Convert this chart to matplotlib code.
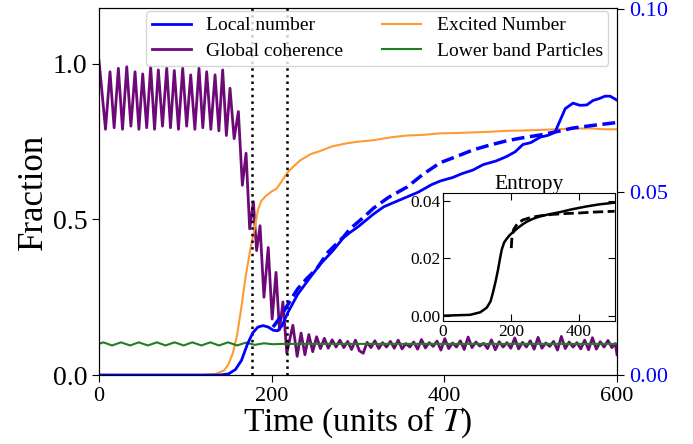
import matplotlib
matplotlib.use("Agg")
import matplotlib.pyplot as plt

plt.rcParams['font.family'] = 'serif'
plt.rcParams['font.serif'] = ['Liberation Serif', 'DejaVu Serif']
plt.rcParams['mathtext.fontset'] = 'stix'

# ---- data (time in units of T) ----
coherence_pts = [
    (0, 1.01), (7.5, 0.79), (12.7, 0.975), (17.5, 0.795), (22.4, 0.986), (27.2, 0.79),
    (32.1, 0.991), (36.9, 0.80), (41.7, 0.975), (46.2, 0.79), (50.6, 0.968), (55.2, 0.795),
    (59.8, 0.991), (64.3, 0.79), (68.7, 0.981), (73.5, 0.80), (78.4, 0.986), (82.8, 0.795),
    (87.2, 0.979), (92.0, 0.79), (96.9, 0.986), (101.5, 0.80), (106.2, 0.965), (111.0, 0.79),
    (115.8, 0.986), (120.2, 0.795), (124.7, 0.975), (129.5, 0.79), (134.4, 0.965), (138.8, 0.785),
    (143.2, 0.981), (147.5, 0.77), (151.7, 0.922), (156.5, 0.76), (161.4, 0.847), (166.0, 0.61),
    (170.3, 0.713), (174.5, 0.47), (178.8, 0.557), (182.5, 0.40), (186.5, 0.48), (191, 0.25),
    (196, 0.41), (200.5, 0.18), (205, 0.33), (209, 0.145), (213, 0.235), (217.5, 0.07),
    (224.5, 0.16), (229.5, 0.06), (234, 0.135), (238.5, 0.065), (243, 0.13), (247.5, 0.075),
    (252, 0.123), (256.5, 0.085), (261, 0.118), (265.5, 0.086), (270, 0.113), (274.5, 0.09),
    (279, 0.112), (283.5, 0.088), (288, 0.108), (292.5, 0.082), (297, 0.112), (301.5, 0.078),
    (306, 0.07), (310.5, 0.105), (315, 0.088), (319.5, 0.11), (324, 0.085), (328.5, 0.104),
    (333, 0.09), (337.5, 0.108), (342, 0.086), (346.5, 0.112), (351, 0.084), (355.5, 0.101),
    (360, 0.09), (364.5, 0.106), (369, 0.083), (373.5, 0.114), (378, 0.087), (382.5, 0.104),
    (387, 0.092), (391.5, 0.109), (396, 0.08), (400.5, 0.117), (405, 0.085), (409.5, 0.103),
    (414, 0.09), (418.5, 0.11), (423, 0.082), (427.5, 0.122), (432, 0.088), (436.5, 0.106),
    (441, 0.093), (445.5, 0.102), (450, 0.085), (454.5, 0.113), (459, 0.081), (463.5, 0.107),
    (468, 0.09), (472.5, 0.104), (477, 0.086), (481.5, 0.119), (486, 0.084), (490.5, 0.105),
    (495, 0.09), (499.5, 0.11), (504, 0.083), (508.5, 0.121), (513, 0.086), (517.5, 0.103),
    (522, 0.092), (526.5, 0.108), (531, 0.08), (535.5, 0.124), (540, 0.085), (544.5, 0.106),
    (549, 0.09), (553.5, 0.104), (558, 0.084), (562.5, 0.112), (567, 0.081), (571.5, 0.12),
    (576, 0.083), (580.5, 0.107), (585, 0.09), (589.5, 0.111), (594, 0.088), (598, 0.101),
    (600, 0.065),
]

excited_pts = [
    (0, 0), (120, 0), (135, 0.003), (145, 0.015), (150, 0.035), (155, 0.07), (160, 0.13),
    (165, 0.22), (170, 0.32), (175, 0.40), (180, 0.47), (184, 0.53), (188, 0.56), (193, 0.575),
    (200, 0.59), (206, 0.60), (212, 0.625), (218, 0.65), (225, 0.67), (233, 0.69), (245, 0.71),
    (256, 0.72), (270, 0.735), (287, 0.745), (300, 0.75), (318, 0.755), (340, 0.765),
    (357, 0.77), (375, 0.772), (395, 0.777), (415, 0.778), (433, 0.78), (452, 0.782),
    (472, 0.785), (490, 0.786), (511, 0.788), (530, 0.79), (549, 0.792), (570, 0.793),
    (585, 0.79), (600, 0.79),
]

lower_band_pts = [
    (0, 0.1), (5, 0.105), (15, 0.095), (25.5, 0.105), (36, 0.095), (46, 0.105), (56.5, 0.095),
    (67, 0.105), (77, 0.095), (87.5, 0.105), (98, 0.095), (108, 0.105), (118.5, 0.095),
    (129, 0.105), (139, 0.095), (149.5, 0.105), (160, 0.095), (170, 0.104), (180.5, 0.097),
    (191, 0.102), (201, 0.099), (212, 0.1), (600, 0.1),
]

# local number lives on the right axis
local_pts = [
    (0, 0), (140, 0), (150, 0.0003), (158, 0.0015), (165, 0.004), (172, 0.0085), (178, 0.0115),
    (184, 0.0131), (190, 0.0135), (196, 0.0131), (202, 0.0122), (207, 0.0121), (212, 0.0135),
    (219, 0.0172), (230, 0.022), (244, 0.0265), (257, 0.0305), (271, 0.034), (283, 0.0375),
    (291, 0.039), (300, 0.0405), (318, 0.044), (330, 0.046), (340, 0.047), (357, 0.0487),
    (370, 0.05), (385, 0.052), (395, 0.053), (410, 0.054), (420, 0.055), (433, 0.056),
    (445, 0.0575), (460, 0.0585), (472, 0.0597), (482, 0.061), (491, 0.063), (500, 0.0635),
    (511, 0.065), (520, 0.0655), (528, 0.0663), (533, 0.069), (540, 0.0728), (549, 0.0743),
    (557, 0.0737), (565, 0.0738), (572, 0.075), (580, 0.0756), (586, 0.0762), (592, 0.0762),
    (600, 0.0751),
]

local_fit_pts = [
    (201.5, 0.0131), (210, 0.0158), (217, 0.0186), (230, 0.0235), (240, 0.0262), (252, 0.029),
    (265, 0.0335), (283, 0.0377), (291, 0.040), (305, 0.0428), (318, 0.0456), (335, 0.0485),
    (357, 0.0514), (375, 0.0548), (395, 0.058), (415, 0.0598), (433, 0.0615), (452, 0.0628),
    (472, 0.064), (490, 0.0648), (511, 0.0656), (530, 0.0665), (549, 0.0675), (575, 0.0683),
    (600, 0.069),
]

entropy_pts = [
    (0, 0), (80, 0.0003), (110, 0.0012), (129, 0.0028), (140, 0.005), (147, 0.008),
    (155, 0.012), (162, 0.016), (168, 0.02), (173, 0.023), (180, 0.0255), (188, 0.0268),
    (196, 0.028), (206, 0.029), (220, 0.0305), (235, 0.0318), (247, 0.0327), (265, 0.0337),
    (285, 0.0345), (310, 0.0352), (344, 0.036), (380, 0.037), (423, 0.038), (460, 0.0387),
    (505, 0.0393),
]

entropy_fit_pts = [
    (201, 0.0235), (203, 0.0275), (208, 0.03), (218, 0.0318), (235, 0.0333), (260, 0.0342),
    (285, 0.0347), (320, 0.0352), (360, 0.0355), (400, 0.0357), (440, 0.036), (505, 0.0363),
]

transition_times = [177, 218]


def split(pts):
    return [p[0] for p in pts], [p[1] for p in pts]


fig = plt.figure(figsize=(6.93, 4.44), dpi=100)
ax = fig.add_axes([0.1429, 0.1554, 0.7475, 0.8266])
ax2 = ax.twinx()

t, v = split(coherence_pts)
l_coh, = ax.plot(t, v, color='#6e0a78', lw=2.0, label='Global coherence')
t, v = split(excited_pts)
l_exc, = ax.plot(t, v, color='#ff9a33', lw=1.5, label='Excited Number')
t, v = split(lower_band_pts)
l_low, = ax.plot(t, v, color='#1f7f1f', lw=1.5, label='Lower band Particles')
for tt in transition_times:
    ax.axvline(tt, color='black', ls=':', lw=1.8)

t, v = split(local_pts)
l_loc, = ax2.plot(t, v, color='blue', lw=2.0, label='Local number')
t, v = split(local_fit_pts)
ax2.plot(t, v, color='blue', lw=2.5, ls='--')

ax.set_xlim(0, 600)
ax.set_ylim(0, 1.18)
ax2.set_ylim(0, 0.1003)
ax.set_xticks([0, 200, 400, 600])
ax.set_yticks([0, 0.5, 1.0])
ax2.set_yticks([0, 0.05, 0.10])
ax.tick_params(axis='x', labelsize=16, length=5)
ax.tick_params(axis='y', labelsize=20, length=5)
ax2.tick_params(axis='y', labelsize=16, labelcolor='blue', length=5)
ax.set_xlabel(r'Time (units of $T$)', fontsize=24, labelpad=-1)
ax.set_ylabel('Fraction', fontsize=25, labelpad=2)

ax2.legend([l_loc, l_coh, l_exc, l_low],
           ['Local number', 'Global coherence', 'Excited Number', 'Lower band Particles'],
           ncol=2, loc='upper center', bbox_to_anchor=(0.537, 0.992), borderaxespad=0,
           fontsize=14, labelspacing=0.4, borderpad=0.3)

# inset with the entropy
ins = fig.add_axes([0.6392, 0.2770, 0.2482, 0.2883])
t, v = split(entropy_pts)
ins.plot(t, v, color='black', lw=1.8)
t, v = split(entropy_fit_pts)
ins.plot(t, v, color='black', lw=2.0, ls='--')
ins.set_xlim(0, 506)
ins.set_ylim(-0.00185, 0.04265)
ins.set_xticks([0, 200, 400])
ins.set_yticks([0, 0.02, 0.04])
ins.tick_params(direction='in', top=True, right=True, labelsize=12.5, length=5, pad=2)
ins.set_title('Entropy', fontsize=15.5, pad=3)

fig.savefig('out.png', dpi=100)
